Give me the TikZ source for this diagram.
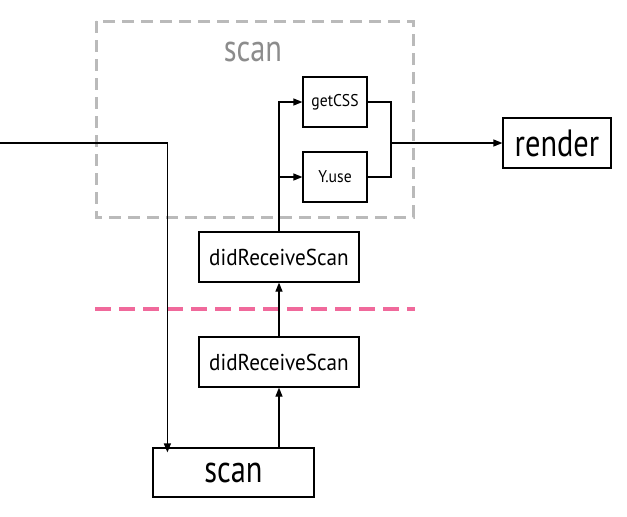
\documentclass[tikz,border=0pt]{standalone}
\usepackage{fontspec}
\setmainfont[FakeStretch=0.8]{PT Sans}
\newfontfamily\widerfont[FakeStretch=0.92]{PT Sans}
\usetikzlibrary{arrows.meta}
\begin{document}
\begin{tikzpicture}[x=1pt,y=-1pt,
  box/.style={draw=black,line width=1.2pt,inner sep=0pt,fill=white},
  conn/.style={draw=black,line width=1.2pt},
  arr/.style={conn,-{Triangle[length=9pt,width=7pt]}},
  fsmall/.style={font=\widerfont\fontsize{17}{19}\selectfont},
  fmid/.style={font=\widerfont\fontsize{23}{25}\selectfont},
  fbig/.style={font=\fontsize{38}{40}\selectfont}]
\useasboundingbox (0,0) rectangle (627,517);
\draw[line width=3pt,draw=black!27,dash pattern=on 12pt off 7pt] (96,21) rectangle (413,217);
\node[fbig,text=black!45] (glabel) at (253,52) {scan};
\draw[line width=4pt,draw={rgb,255:red,240;green,105;blue,155},dash pattern=on 16pt off 8pt] (95,309) -- (415,309);
\node[box,fsmall,minimum width=64pt,minimum height=50pt] (getCSS) at (335,102) {getCSS};
\node[box,fsmall,minimum width=64pt,minimum height=50pt] (Yuse) at (335,177) {Y.use};
\node[box,fbig,minimum width=108pt,minimum height=50pt] (render) at (557,143) {render};
\node[box,fmid,minimum width=160pt,minimum height=50pt] (dRS1) at (279,257) {didReceiveScan};
\node[box,fmid,minimum width=160pt,minimum height=50pt] (dRS2) at (279,362) {didReceiveScan};
\node[box,fbig,minimum width=161pt,minimum height=49pt] (scan) at (233.5,472.5) {scan};
\coordinate (in) at (0,143);
\coordinate (jn) at (391,143);
\coordinate (sx) at ([xshift=15pt]scan.north west);
\draw[arr] (in) -| ([yshift=-5pt]sx);
\draw[arr] (dRS2.south |- scan.north) -- (dRS2.south);
\draw[arr] (dRS2.north) -- (dRS1.south);
\draw[arr] (dRS1.north) |- (getCSS.west);
\draw[arr] (dRS1.north) |- (Yuse.west);
\draw[conn] (getCSS.east) -| (jn) |- (Yuse.east);
\draw[arr] (jn) -- (render.west);
\end{tikzpicture}
\end{document}
